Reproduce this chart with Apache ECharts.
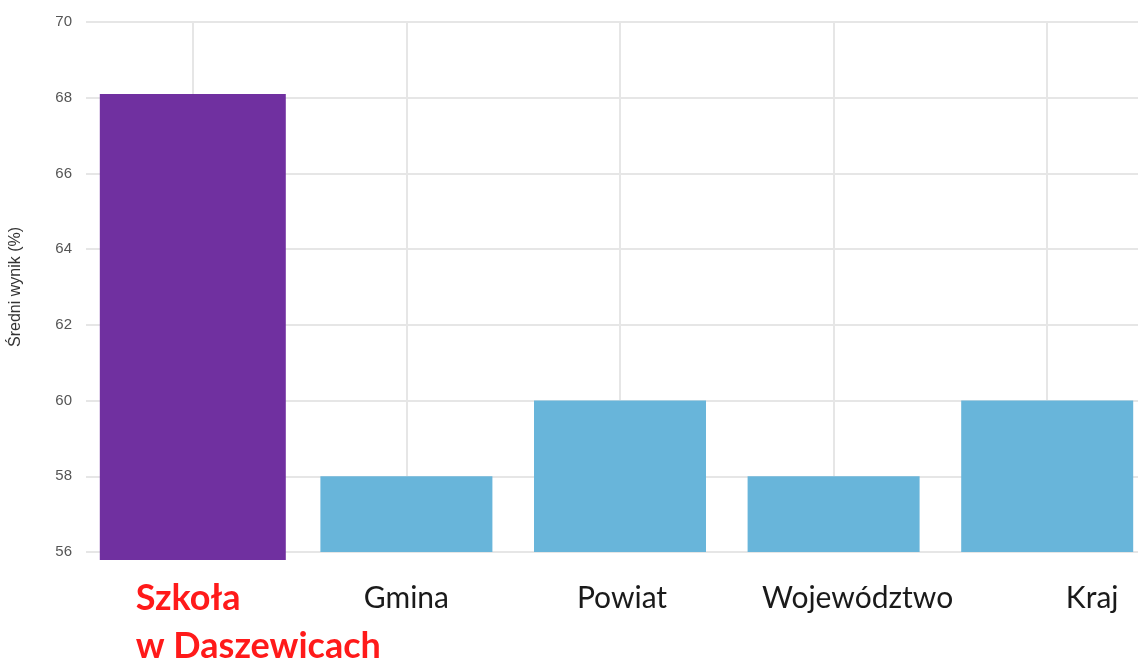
<!DOCTYPE html>
<html>
<head>
<meta charset="utf-8">
<script src="https://cdn.jsdelivr.net/npm/echarts@6/dist/echarts.min.js"></script>
<style>
  html, body { margin: 0; padding: 0; background: #fff; }
  #main { width: 1138px; height: 660px; }
</style>
</head>
<body>
<div id="main"></div>
<script>
// dane
var categories = ['Szkoła\nw Daszewicach', 'Gmina', 'Powiat', 'Województwo', 'Kraj'];
var values = [68.1, 58, 60, 58, 60];
var yMin = 56, yMax = 70, yStep = 2;
var yName = 'Średni wynik (%)';

var purple = '#7030a0', blue = '#68b5da';
var gridLeft = 86, gridTop = 22, gridH = 530, gridW = 1068;
var extraBottom = 8;   // fioletowy słupek wystaje pod oś
var pxPerUnit = gridH / (yMax - yMin);

// przesunięcia podpisów (jak na oryginale)
var labelPad = [[0, 0, 0, 131], null, [0, 0, 0, 4], [0, 0, 0, 48], [0, 0, 0, 90]];

showchart();

function showchart() {
    var myChart = echarts.init(document.getElementById('main'));
    var axisData = categories.map(function (c, i) {
        return labelPad[i] ? { value: c, textStyle: { padding: labelPad[i] } } : c;
    });
    var option = {
        animation: false,
        grid: [
            { left: gridLeft, top: gridTop, width: gridW, height: gridH, outerBoundsMode: 'none' },
            { left: gridLeft, top: gridTop, width: gridW, height: gridH + extraBottom, outerBoundsMode: 'none' }
        ],
        xAxis: [
            {
                type: 'category',
                gridIndex: 0,
                data: axisData,
                axisLine: { show: false },
                axisTick: { show: false },
                splitLine: { show: true, alignWithLabel: true, lineStyle: { color: '#e6e6e6', width: 2 } },
                axisLabel: {
                    interval: 0,
                    margin: 22,
                    fontFamily: 'Lato',
                    fontSize: 30,
                    lineHeight: 48,
                    color: '#1a1a1a',
                    formatter: function (v, i) {
                        if (i === 0) {
                            return v.split('\n').map(function (s) { return '{s|' + s + '}'; }).join('\n');
                        }
                        return v;
                    },
                    rich: {
                        s: { color: '#ff1a1a', fontWeight: 'bold', fontFamily: 'Lato', fontSize: 36, lineHeight: 48, align: 'left' }
                    }
                }
            },
            { type: 'category', gridIndex: 1, data: categories, show: false }
        ],
        yAxis: [
            {
                type: 'value',
                gridIndex: 0,
                min: yMin, max: yMax, interval: yStep,
                name: yName,
                nameLocation: 'middle',
                nameGap: 62,
                nameTextStyle: { fontFamily: 'Liberation Sans', fontSize: 16, color: '#333' },
                axisLine: { show: false },
                axisTick: { show: false },
                axisLabel: { margin: 14, fontFamily: 'Liberation Sans', fontSize: 15, color: '#555' },
                splitLine: { lineStyle: { color: '#e6e6e6', width: 2 } }
            },
            {
                type: 'value',
                gridIndex: 1,
                min: yMax - (gridH + extraBottom) / pxPerUnit, max: yMax,
                show: false,
                splitLine: { show: false }
            }
        ],
        series: [
            {
                type: 'bar',
                xAxisIndex: 1, yAxisIndex: 1,
                barWidth: 186,
                itemStyle: { color: purple },
                data: values.map(function (v, i) { return i === 0 ? v : '-'; })
            },
            {
                type: 'bar',
                xAxisIndex: 0, yAxisIndex: 0,
                barWidth: 172,
                itemStyle: { color: blue },
                data: values.map(function (v, i) { return i === 0 ? '-' : v; })
            }
        ]
    };
    myChart.setOption(option);
}
</script>
</body>
</html>
